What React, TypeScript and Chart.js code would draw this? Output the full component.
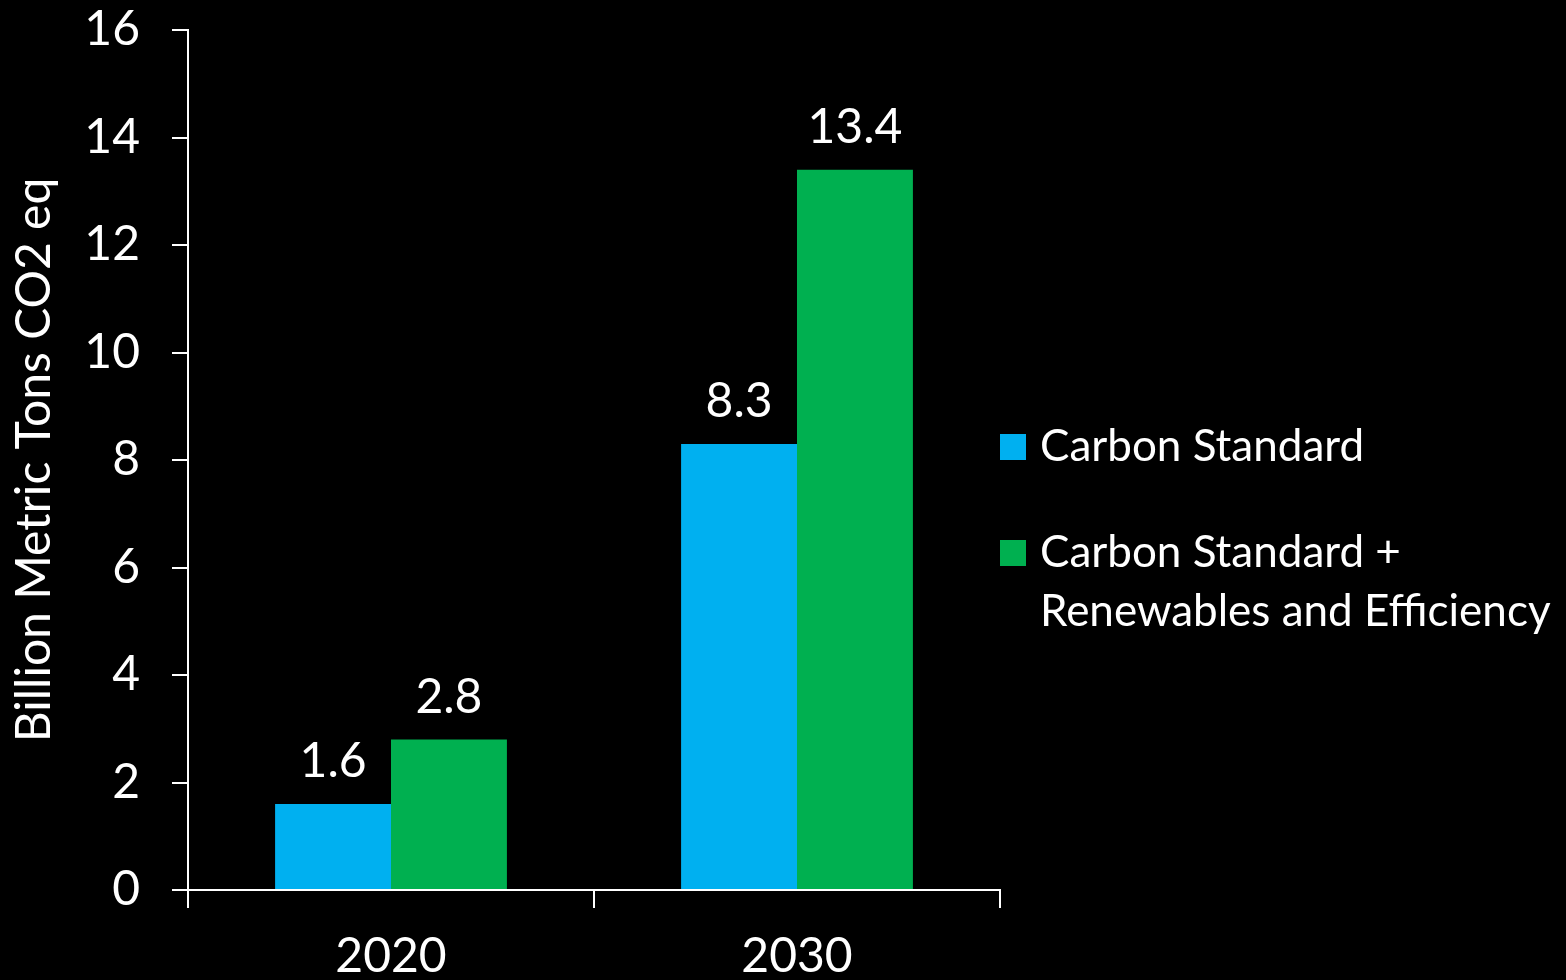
import React, { useEffect, useRef } from "react";
import { Chart, registerables } from "chart.js";

Chart.register(...registerables);

const categories = ["2020", "2030"];
const carbonStandard = [1.6, 8.3];
const carbonPlusRenewables = [2.8, 13.4];
const seriesLabels = ["Carbon Standard", "Carbon Standard + Renewables and Efficiency"];
const legendLines = [["Carbon Standard"], ["Carbon Standard +", "Renewables and Efficiency"]];
const seriesColors = ["#00B0F0", "#00B050"];
const yMin = 0;
const yMax = 16;
const yStep = 2;
const yAxisTitle = "Billion Metric Tons CO2 eq";

const FONT = "Lato, 'Open Sans', sans-serif";
const FS = 48;

const valueLabelPlugin = {
  id: "valueLabels",
  afterDatasetsDraw(chart: any) {
    const ctx = chart.ctx;
    ctx.save();
    ctx.fillStyle = "#ffffff";
    ctx.font = `${FS}px ${FONT}`;
    ctx.textAlign = "center";
    ctx.textBaseline = "bottom";
    chart.data.datasets.forEach((ds: any, i: number) => {
      const meta = chart.getDatasetMeta(i);
      meta.data.forEach((el: any, j: number) => {
        ctx.fillText(Number(ds.data[j]).toFixed(1), el.x, el.y - 18);
      });
    });
    ctx.restore();
  },
};

const sideLegendPlugin = {
  id: "sideLegend",
  afterDraw(chart: any) {
    const ctx = chart.ctx;
    const area = chart.chartArea;
    const x0 = area.right;
    const firstY = 447;
    const itemGap = 106;
    const lineGap = 59;
    const box = 26;
    ctx.save();
    ctx.font = `${FS - 4}px ${FONT}`;
    ctx.textBaseline = "middle";
    ctx.textAlign = "left";
    let y = firstY;
    legendLines.forEach((lines, i) => {
      ctx.fillStyle = seriesColors[i];
      ctx.fillRect(x0, y - box / 2, box, box);
      ctx.fillStyle = "#ffffff";
      lines.forEach((t, k) => {
        ctx.fillText(t, x0 + 40, y + k * lineGap);
      });
      y += itemGap;
    });
    ctx.restore();
  },
};

export default function App() {
  const ref = useRef<HTMLCanvasElement | null>(null);

  useEffect(() => {
    document.body.style.margin = "0";
    document.body.style.background = "#000000";
    if (!ref.current) return;
    const chart = new Chart(ref.current, {
      type: "bar",
      data: {
        labels: categories,
        datasets: [
          {
            label: seriesLabels[0],
            data: carbonStandard,
            backgroundColor: seriesColors[0],
            borderWidth: 0,
          },
          {
            label: seriesLabels[1],
            data: carbonPlusRenewables,
            backgroundColor: seriesColors[1],
            borderWidth: 0,
          },
        ],
      },
      options: {
        responsive: false,
        animation: false,
        maintainAspectRatio: false,
        layout: { padding: { left: 0, top: 30, right: 566, bottom: 0 } },
        datasets: { bar: { barPercentage: 1, categoryPercentage: 0.571 } },
        plugins: {
          legend: { display: false },
          tooltip: { enabled: false },
          title: { display: false },
        },
        scales: {
          x: {
            grid: {
              offset: true,
              drawOnChartArea: false,
              drawTicks: true,
              tickLength: 18,
              color: "#ffffff",
              lineWidth: 2,
            },
            border: { display: true, color: "#ffffff", width: 2 },
            ticks: {
              color: "#ffffff",
              font: { family: FONT, size: FS },
              padding: 20,
            },
            afterFit(scale: any) {
              scale.height = 90;
              scale.paddingLeft = 0;
              scale.paddingRight = 0;
            },
          },
          y: {
            min: yMin,
            max: yMax,
            ticks: {
              stepSize: yStep,
              color: "#ffffff",
              font: { family: FONT, size: FS },
              padding: 32,
            },
            grid: {
              drawOnChartArea: false,
              drawTicks: true,
              tickLength: 16,
              color: "#ffffff",
              lineWidth: 2,
            },
            border: { display: true, color: "#ffffff", width: 2 },
            title: {
              display: true,
              text: yAxisTitle,
              color: "#ffffff",
              font: { family: FONT, size: FS },
              padding: { top: 6, bottom: 0 },
            },
            afterFit(scale: any) {
              scale.width = 188;
              scale.paddingTop = 0;
              scale.paddingBottom = 0;
            },
          },
        },
      },
      plugins: [valueLabelPlugin, sideLegendPlugin],
    });
    return () => chart.destroy();
  }, []);

  return (
    <div style={{ width: 1566, height: 980, background: "#000000" }}>
      <canvas ref={ref} width={1566} height={980} style={{ display: "block" }} />
    </div>
  );
}
